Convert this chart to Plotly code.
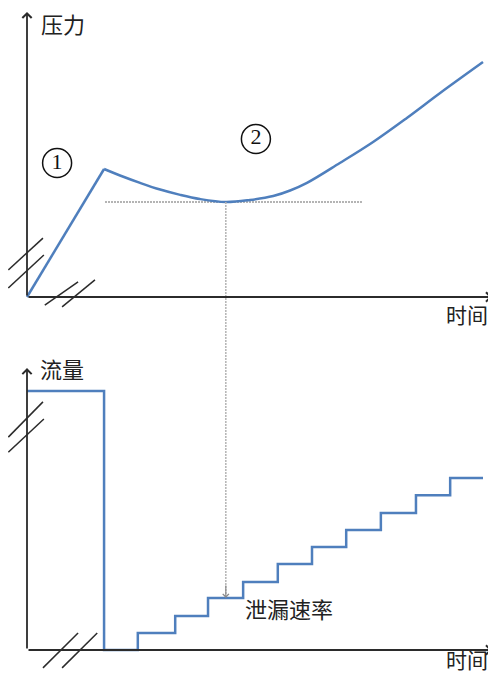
import plotly.graph_objects as go

# pressure curve (time, pressure) - arbitrary units
press_t = [0, 16.9]
press_p = [0, 55.4]
curve_t = [16.9, 20.4, 24.8, 29.2, 33.6, 37.9, 43.6, 48.9, 54.0, 57.7, 61.4, 68.6, 75.9, 83.3, 90.6, 100]
curve_p = [55.4, 52.6, 49.4, 46.5, 44.2, 42.4, 41.1, 42.0, 43.7, 46.1, 49.4, 58.0, 67.1, 77.5, 88.3, 101.7]
p_min_t = 43.6
p_min = 41.1
ref_line_t = [17.1, 73.5]

# flow (step shaped leak rate)
flow_t = [0, 16.9, 24.3, 32.5, 39.7, 47.4, 55.0, 62.5, 70.0, 77.6, 85.3, 92.8, 100]
flow_f = [100, 0, 6.6, 13.1, 20.1, 26.3, 33.2, 39.8, 46.3, 52.9, 59.8, 66.4, 66.4]
leak_hit = 20.1

# axis ranges (both y axes span the whole figure)
x_range = [-4.167, 102.851]
p_range = [-164.07, 125.1]
f_range = [-10.04, 247.9]

def p_to_f(p):
    frac = (p - p_range[0]) / (p_range[1] - p_range[0])
    return f_range[0] + frac * (f_range[1] - f_range[0])

blue = "#4f7fbd"
axis_col = "#2b2b2b"
grey = "#b4b4b4"
cjk = "Noto Sans CJK SC"

fig = go.Figure()

# axis break slashes
brk_top = [([-4.1, 3.5], [11.7, 25.5]), ([-4.1, 3.7], [3.9, 18.2]),
           ([3.9, 11.2], [-3.5, 6.5]), ([7.7, 14.9], [-4.3, 7.4])]
brk_bot = [([-4.1, 3.5], [82.2, 95.8]), ([-4.1, 3.7], [76.4, 89.2]),
           ([3.5, 11.2], [-6.9, 6.6]), ([7.7, 15.4], [-6.9, 6.6])]
for xs, ys in brk_top:
    fig.add_trace(go.Scatter(x=xs, y=ys, mode="lines", yaxis="y",
                             line=dict(color=axis_col, width=1.5), hoverinfo="skip"))
for xs, ys in brk_bot:
    fig.add_trace(go.Scatter(x=xs, y=ys, mode="lines", yaxis="y2",
                             line=dict(color=axis_col, width=1.5), hoverinfo="skip"))

# reference lines
fig.add_trace(go.Scatter(x=ref_line_t, y=[p_min, p_min], mode="lines", yaxis="y",
                         line=dict(color=grey, width=2, dash="2px,1px")))
fig.add_trace(go.Scatter(x=[p_min_t, p_min_t], y=[p_to_f(p_min), leak_hit + 1], mode="lines",
                         yaxis="y2", line=dict(color=grey, width=1.5, dash="2px,1px")))

# data lines
fig.add_trace(go.Scatter(x=press_t, y=press_p, mode="lines", yaxis="y",
                         line=dict(color=blue, width=2.5)))
fig.add_trace(go.Scatter(x=curve_t, y=curve_p, mode="lines", yaxis="y",
                         line=dict(color=blue, width=2.5, shape="spline", smoothing=1)))
fig.add_trace(go.Scatter(x=flow_t, y=flow_f, mode="lines", yaxis="y2",
                         line=dict(color=blue, width=2.5, shape="hv")))

# circled numbers
fig.add_trace(go.Scatter(x=[6.6, 50.2], y=[58.0, 68.4], mode="markers+text", yaxis="y",
                         text=["1", "2"], textposition="middle center",
                         textfont=dict(family="Liberation Serif", size=22, color="#111"),
                         marker=dict(symbol="circle-open", size=29, color="#111",
                                     line=dict(color="#111", width=1.5))))

# axes with arrows
arrows = [
    (0, 123.4, 0, 0, "y"), (102.0, 0, 0, 0, "y"),
    (0, 108.9, 0, 0, "y2"), (102.0, 0, 0, 0, "y2"),
]
for x, y, ax, ay, yr in arrows:
    fig.add_annotation(x=x, y=y, ax=ax, ay=ay, xref="x", yref=yr, axref="x", ayref=yr,
                       text="", showarrow=True, arrowhead=4, arrowsize=1,
                       arrowwidth=1.8, arrowcolor=axis_col)

fig.add_annotation(x=p_min_t, y=leak_hit, xref="x", yref="y2", ax=0, ay=-14,
                   text="", showarrow=True, arrowhead=4, arrowsize=1,
                   arrowwidth=1.2, arrowcolor="#8a8a8a")

labels = [
    ("压力", 2.6, 118.6, "y", "left", 22),
    ("时间", 101.5, -7.4, "y", "right", 21),
    ("流量", 2.4, 108.9, "y2", "left", 22),
    ("时间", 101.5, -3.6, "y2", "right", 21),
    ("泄漏速率", 47.4, 16.2, "y2", "left", 22),
]
for txt, x, y, yr, xa, sz in labels:
    fig.add_annotation(x=x, y=y, xref="x", yref=yr, text=txt, showarrow=False,
                       xanchor=xa, yanchor="middle",
                       font=dict(family=cjk, size=sz, color="#222"))

fig.update_layout(
    width=488, height=668,
    margin=dict(l=0, r=0, t=0, b=0),
    paper_bgcolor="white", plot_bgcolor="white",
    showlegend=False,
    xaxis=dict(range=x_range, visible=False, domain=[0, 1]),
    yaxis=dict(range=p_range, visible=False, domain=[0, 1]),
    yaxis2=dict(range=f_range, visible=False, overlaying="y"),
)

fig.write_html("out.html")
